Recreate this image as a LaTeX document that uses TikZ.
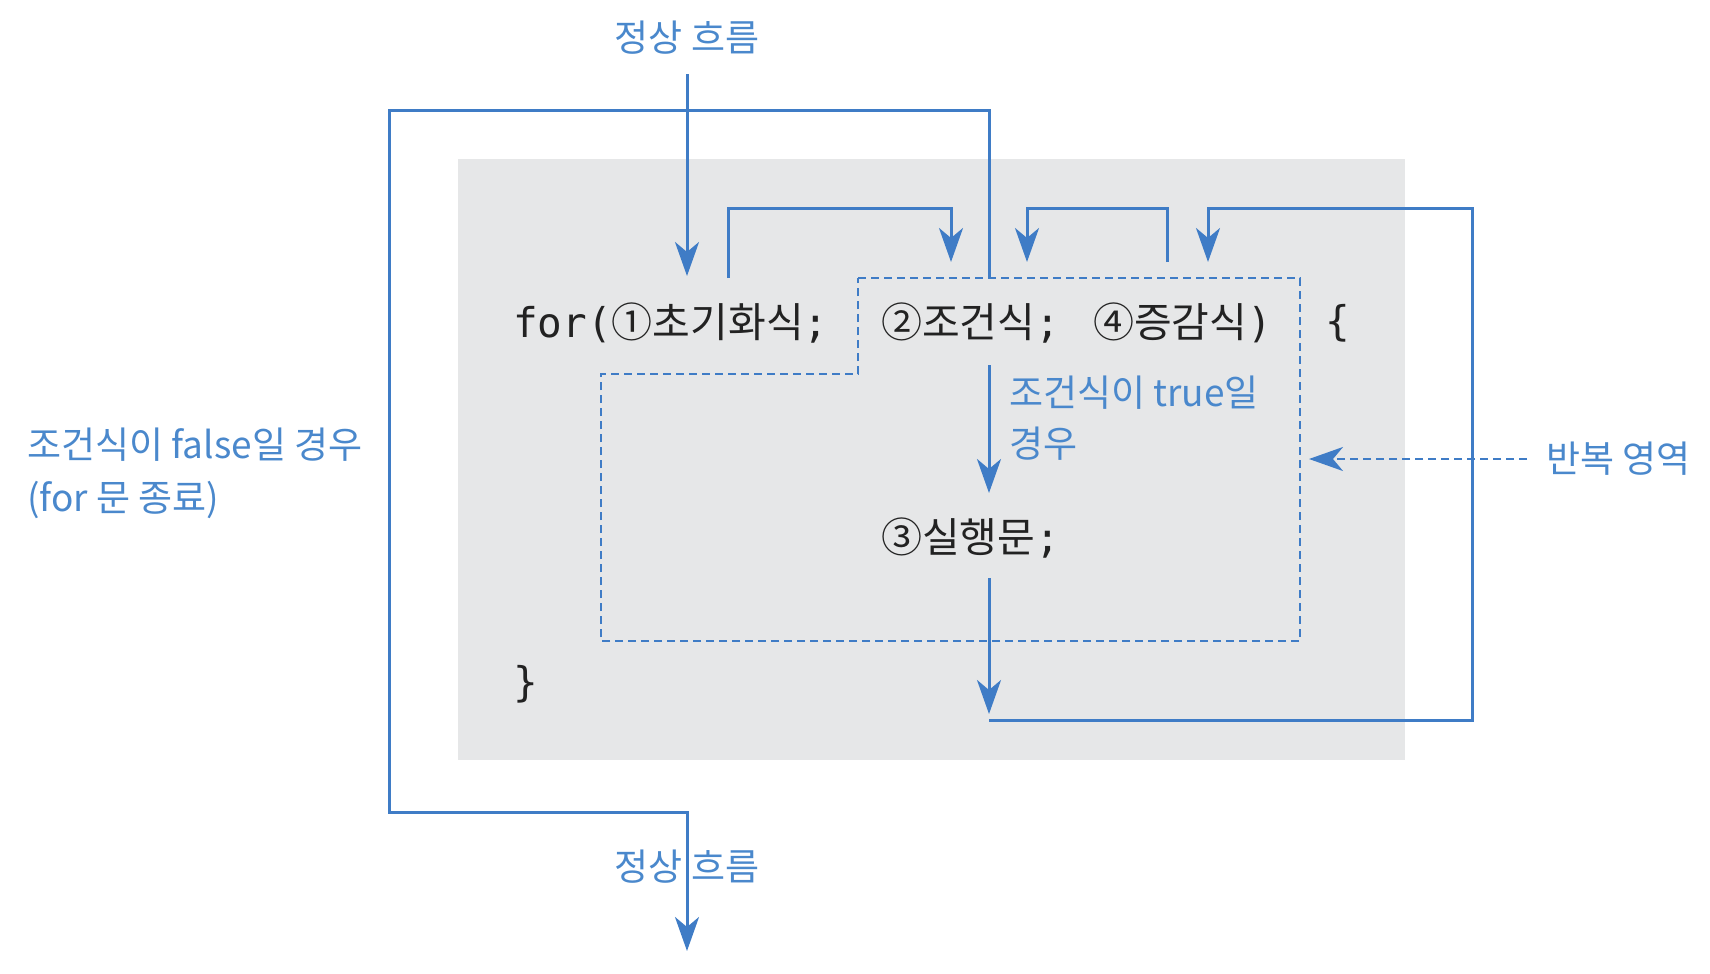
\documentclass[tikz,border=0pt]{standalone}
\usepackage{fontspec}
\setmainfont{Noto Sans CJK KR}
\newfontfamily\codefont{DejaVu Sans Mono}
\usetikzlibrary{arrows.meta}
\definecolor{flowblue}{HTML}{3F7CC6}
\definecolor{labelblue}{HTML}{4A88CC}
\definecolor{boxgray}{HTML}{E6E7E8}
\definecolor{codeink}{HTML}{222222}
\begin{document}
\begin{tikzpicture}[x=1pt,y=-1pt,
  flow/.style={draw=flowblue,line width=3pt},
  tip/.style={-{Stealth[length=34pt,width=24pt,inset=10pt]}},
  dashbox/.style={draw=flowblue,line width=2.4pt,dash pattern=on 8pt off 5pt},
  code/.style={anchor=west,inner sep=0pt,text=codeink,font=\fontsize{41}{45}\selectfont},
  lbl/.style={anchor=west,inner sep=0pt,text=labelblue,font=\fontsize{37}{40}\selectfont},
  clbl/.style={inner sep=0pt,text=labelblue,font=\fontsize{37}{40}\selectfont}]
\useasboundingbox (0,0) rectangle (1710,974);
\fill[boxgray] (458,159) rectangle (1405,760);
% texts
\node[clbl] (top) at (687,38) {정상 흐름};
\node[clbl] (bot) at (687,867) {정상 흐름};
\node[code] (init) at (513,323) {{\codefont for(}①초기화식{\codefont ;}};
\node[code] (cond) at (881,323) {②조건식{\codefont ;}\hspace{24pt} ④증감식{\codefont )}};
\node[code] (ob) at (1325,323) {{\codefont \{}};
\node[code] (cb) at (513,684) {{\codefont \}}};
\node[code] (body) at (881,538) {③실행문{\codefont ;}};
\node[lbl] (t1) at (1009,393) {조건식이 true일};
\node[lbl] (t2) at (1009,444) {경우};
\node[lbl] (f1) at (27,445) {조건식이 false일 경우};
\node[lbl] (f2) at (27,500) {(for 문 종료)};
\node[lbl] (rep) at (1546,459) {반복 영역};
% coordinates
\coordinate (a1s) at (687,74);  \coordinate (a1e) at (687,276);
\coordinate (o1) at (989,278); \coordinate (o2) at (989,110); \coordinate (o3) at (389,110);
\coordinate (o4) at (389,812); \coordinate (o5) at (687,812); \coordinate (o6) at (687,951);
\coordinate (b1) at (728,278); \coordinate (b2) at (728,208); \coordinate (b3) at (951,208); \coordinate (b4) at (951,262);
\coordinate (c1) at (1167,262); \coordinate (c2) at (1167,208); \coordinate (c3) at (1027,208); \coordinate (c4) at (1027,262);
\coordinate (d1) at (989,720); \coordinate (d2) at (1472,720); \coordinate (d3) at (1472,208); \coordinate (d4) at (1208,208); \coordinate (d5) at (1208,262);
\coordinate (e1) at (989,578); \coordinate (e2) at (989,714);
\coordinate (g1) at (989,365); \coordinate (g2) at (989,493);
\coordinate (h1) at (1527,459); \coordinate (h2) at (1309,459);
% dashed region
\draw[dashbox] (858,278) -- (1300,278) -- (1300,641) -- (601,641) -- (601,374) -- (858,374) -- cycle;
% connectors
\draw[flow,tip] (a1s) -- (a1e);
\draw[flow,tip] (o1) -- (o2) -- (o3) -- (o4) -- (o5) -- (o6);
\draw[flow,tip] (b1) -- (b2) -- (b3) -- (b4);
\draw[flow,tip] (c1) -- (c2) -- (c3) -- (c4);
\draw[flow,tip] (d1) -- (d2) -- (d3) -- (d4) -- (d5);
\draw[flow,tip] (e1) -- (e2);
\draw[flow,tip] (g1) -- (g2);
\draw[dashbox,-{Stealth[length=34pt,width=24pt,inset=10pt]}] (h1) -- (h2);
\end{tikzpicture}
\end{document}
